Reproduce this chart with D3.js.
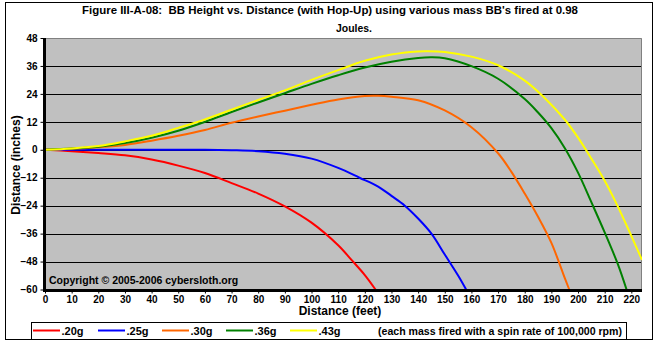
<!DOCTYPE html>
<html>
<head>
<meta charset="utf-8">
<script src="https://cdn.jsdelivr.net/npm/d3@7"></script>
<style>
  html, body { margin: 0; padding: 0; background: #fff; }
  svg { display: block; font-family: "Liberation Sans", Arial, sans-serif; font-weight: bold; }
</style>
</head>
<body>
<svg id="chart" width="658" height="344"></svg>
<script>
// Titles and labels
const titleLines = [
  "Figure III-A-08:  BB Height vs. Distance (with Hop-Up) using various mass BB's fired at 0.98",
  "Joules."
];
const xAxisTitle = "Distance (feet)";
const yAxisTitle = "Distance (inches)";
const copyrightText = "Copyright \u00A9 2005-2006 cybersloth.org";
const legendNote = "(each mass fired with a spin rate of 100,000 rpm)";

// Series names and colours
const seriesNames = [".20g", ".25g", ".30g", ".36g", ".43g"];
const seriesColors = ["#ff0000", "#0000ff", "#ff6600", "#008000", "#ffff00"];

// Tick values
const xTicks = d3.range(0, 221, 10);
const yTicks = [-60, -48, -36, -24, -12, 0, 12, 24, 36, 48];

// Trajectories: distance (feet) and height (inches)
const dist20   = [0, 10, 20, 30, 40, 50, 60, 70, 80, 90, 100, 110, 115, 120, 124];
const height20 = [0, -0.6, -1.4, -2.4, -4.2, -6.8, -10, -14.3, -18.8, -24.3, -31.3, -41, -47.3, -53.8, -60];

const dist25   = [0, 10, 20, 30, 40, 50, 60, 70, 80, 90, 100, 110, 118, 125, 130, 135, 140, 145, 150, 155, 158];
const height25 = [0, 0, 0, 0, 0, 0, 0, -0.2, -0.6, -1.7, -3.8, -7.8, -12, -15.8, -19.8, -24, -29.5, -36, -45, -54, -60];

const dist30   = [0, 10, 20, 30, 40, 50, 60, 70, 80, 90, 100, 110, 120, 125, 130, 140, 150, 160, 170, 175, 180, 185, 190, 195, 196.7];
const height30 = [0, 0.4, 1.1, 2.1, 3.9, 6, 8.5, 11.6, 14.3, 16.8, 19.3, 21.6, 23.1, 23.2, 22.8, 21.3, 16.9, 9.7, -1.5, -9.5, -18.8, -28.8, -40, -55, -60];

const dist36   = [0, 10, 20, 30, 40, 50, 60, 70, 80, 90, 100, 110, 120, 130, 140, 145, 150, 160, 170, 180, 185, 190, 195, 200, 205, 210, 215, 218.2];
const height36 = [0, 0.5, 1.3, 2.9, 5.2, 8.2, 12, 16.2, 20.3, 24.3, 28.3, 32, 35.3, 37.8, 39.4, 39.7, 39.3, 35.9, 30.5, 21.8, 16, 9.3, 0.8, -9.8, -22.5, -35.5, -49.3, -60];

const dist43   = [0, 10, 20, 30, 40, 50, 60, 70, 80, 90, 100, 110, 120, 130, 140, 143, 150, 160, 170, 180, 187, 195, 200, 205, 210, 215, 220, 224];
const height43 = [0, 0.6, 1.6, 3.6, 6, 9.4, 13, 17.2, 21.4, 25.5, 30, 34.2, 38.2, 40.9, 42.2, 42.3, 42, 40, 36.3, 29.7, 22.8, 13, 5.2, -3.8, -13.3, -24.5, -37, -47.3];

const seriesDist = [dist20, dist25, dist30, dist36, dist43];
const seriesHeight = [height20, height25, height30, height36, height43];

// Layout
const plot = { left: 45, right: 642, top: 38, bottom: 289.5 };

const svg = d3.select("#chart");

const x = d3.scaleLinear().domain([0, 224]).range([plot.left, plot.right]);
const y = d3.scaleLinear().domain([-60, 48]).range([plot.bottom, plot.top]);

// Outer frame
svg.append("rect")
  .attr("x", 5.5).attr("y", 2.5).attr("width", 647).attr("height", 337)
  .attr("fill", "#fff").attr("stroke", "#000").attr("stroke-width", 1);

// Title
svg.append("g").selectAll("text")
  .data(titleLines)
  .join("text")
  .attr("x", (d, i) => i === 0 ? 82 : 336)
  .attr("y", (d, i) => 14 + i * 17.5)
  .attr("font-size", 11)
  .attr("textLength", (d, i) => i === 0 ? 496 : 36)
  .attr("lengthAdjust", "spacingAndGlyphs")
  .style("white-space", "pre")
  .text(d => d);

// Plot background
svg.append("rect")
  .attr("x", plot.left).attr("y", plot.top)
  .attr("width", plot.right - plot.left).attr("height", plot.bottom - plot.top)
  .attr("fill", "#c0c0c0");

// Gray plot border (top and right)
svg.append("path")
  .attr("d", `M${plot.left},${plot.top + 0.5}H${plot.right - 0.5}V${plot.bottom}`)
  .attr("fill", "none").attr("stroke", "#808080").attr("stroke-width", 1);

// Horizontal gridlines
svg.append("g")
  .selectAll("line")
  .data(yTicks.filter(v => v > -60 && v < 48))
  .join("line")
  .attr("x1", plot.left).attr("x2", plot.right - 1)
  .attr("y1", d => Math.round(y(d)) + 0.5).attr("y2", d => Math.round(y(d)) + 0.5)
  .attr("stroke", "#000").attr("stroke-width", 1)
  .attr("shape-rendering", "crispEdges");

// Clip for the trajectories
svg.append("clipPath").attr("id", "plot-clip")
  .append("rect")
  .attr("x", plot.left).attr("y", plot.top)
  .attr("width", plot.right - plot.left).attr("height", plot.bottom - plot.top + 1);

const line = d3.line()
  .x(d => x(d[0]))
  .y(d => y(d[1]))
  .curve(d3.curveCatmullRom.alpha(0.5));

svg.append("g")
  .attr("clip-path", "url(#plot-clip)")
  .selectAll("path")
  .data(seriesNames.map((name, i) => ({
    name,
    color: seriesColors[i],
    points: seriesDist[i].map((d, j) => [d, seriesHeight[i][j]])
  })))
  .join("path")
  .attr("d", d => line(d.points))
  .attr("fill", "none")
  .attr("stroke", d => d.color)
  .attr("stroke-width", 2)
  .attr("stroke-linejoin", "round");

// Y axis
const yAxis = svg.append("g")
  .attr("transform", `translate(${plot.left - 0.5},0)`)
  .call(d3.axisLeft(y).tickValues(yTicks).tickSize(4).tickSizeOuter(0).tickPadding(3));
yAxis.select(".domain").attr("stroke-width", 3).attr("d", `M0,${plot.top}V${plot.bottom + 2}`);
yAxis.selectAll(".tick line").attr("stroke-width", 1);
yAxis.selectAll(".tick text")
  .attr("font-size", 10).attr("font-family", "'Liberation Sans', Arial, sans-serif")
  .attr("font-weight", "bold").attr("fill", "#000");

// X axis
const xAxis = svg.append("g")
  .attr("transform", `translate(0,${plot.bottom + 1})`)
  .call(d3.axisBottom(x).tickValues(xTicks).tickSize(3).tickSizeOuter(0).tickPadding(2));
xAxis.select(".domain").attr("stroke-width", 3).attr("d", `M${plot.left - 2},0H${plot.right}`);
xAxis.selectAll(".tick text")
  .attr("font-size", 10).attr("font-family", "'Liberation Sans', Arial, sans-serif")
  .attr("font-weight", "bold").attr("fill", "#000");

// Axis titles
svg.append("text")
  .attr("x", 340).attr("y", 315)
  .attr("text-anchor", "middle").attr("font-size", 12)
  .text(xAxisTitle);

svg.append("text")
  .attr("transform", "translate(20,165) rotate(-90)")
  .attr("text-anchor", "middle").attr("font-size", 12)
  .text(yAxisTitle);

// Copyright notice inside the plot
svg.append("text")
  .attr("x", 49).attr("y", 284)
  .attr("font-size", 10.5)
  .text(copyrightText);

// Legend
const legend = svg.append("g");
legend.append("rect")
  .attr("x", 31.5).attr("y", 322.5).attr("width", 595).attr("height", 17)
  .attr("fill", "#fff").attr("stroke", "#000").attr("stroke-width", 1);

const legendX = [33, 98, 162, 226, 290];
const items = legend.selectAll("g.item")
  .data(seriesNames)
  .join("g").attr("class", "item")
  .attr("transform", (d, i) => `translate(${legendX[i]},0)`);
items.append("line")
  .attr("x1", 0).attr("x2", 27).attr("y1", 330.5).attr("y2", 330.5)
  .attr("stroke", (d, i) => seriesColors[i]).attr("stroke-width", 2);
items.append("text")
  .attr("x", 28.5).attr("y", 334.5)
  .attr("font-size", 11)
  .text(d => d);

legend.append("text")
  .attr("x", 378).attr("y", 334.5)
  .attr("font-size", 11)
  .attr("textLength", 244)
  .attr("lengthAdjust", "spacingAndGlyphs")
  .text(legendNote);
</script>
</body>
</html>
